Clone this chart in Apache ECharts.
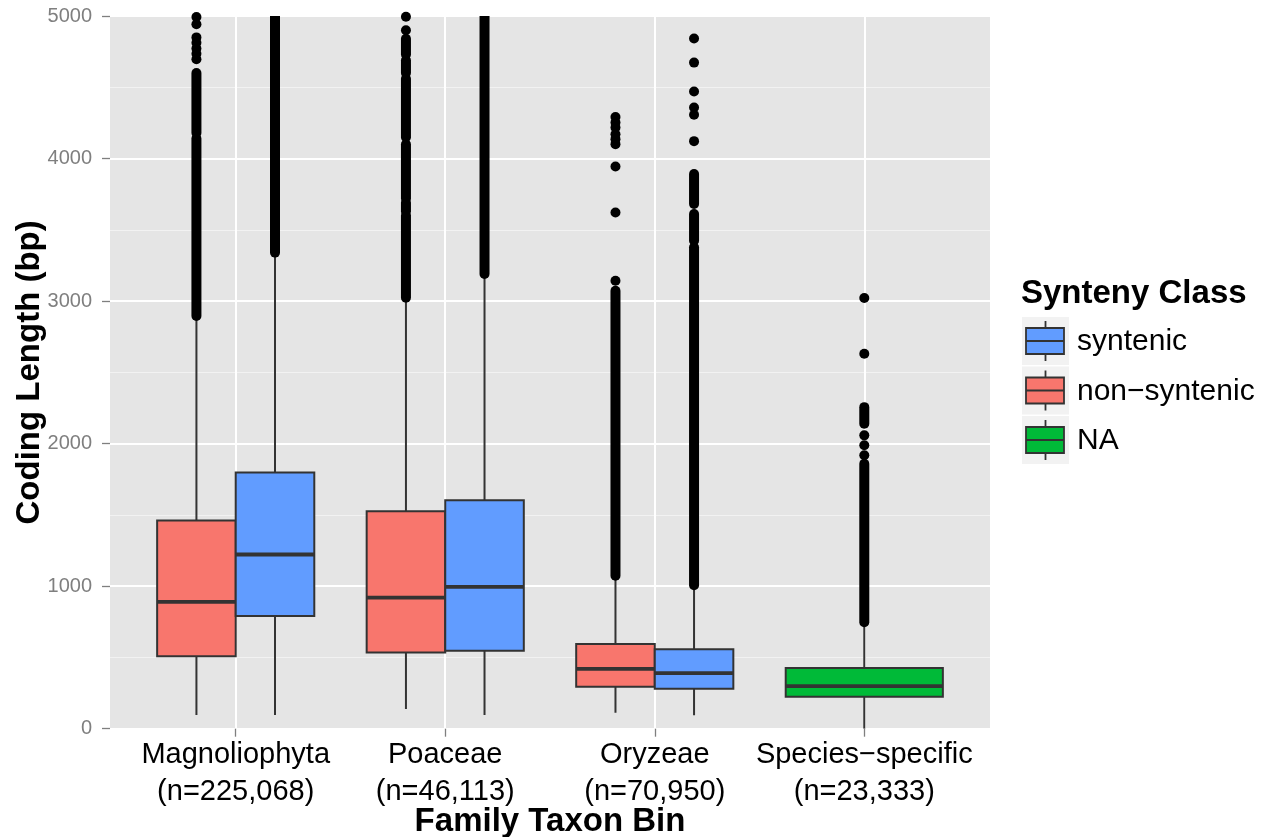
<!DOCTYPE html>
<html><head><meta charset="utf-8">
<script src="https://cdn.jsdelivr.net/npm/echarts@6/dist/echarts.min.js"></script>
<style>html,body{margin:0;padding:0;background:#fff}#c{width:1268px;height:837px}</style>
</head><body><div id="c"></div>
<script>
// ---------- data ----------
const categories = ['Magnoliophyta', 'Poaceae', 'Oryzeae', 'Species\u2212specific'];
const categoryCounts = ['n=225,068', 'n=46,113', 'n=70,950', 'n=23,333'];
const yTicks = [0, 1000, 2000, 3000, 4000, 5000];
const legendNames = ['syntenic', 'non\u2212syntenic', 'NA'];

// [min, Q1, median, Q3, max] per category (null = class absent)
const nonSyntenicBoxes = [[96, 509, 890, 1460, 2885], [138, 535, 920, 1525, 3015], [112, 294, 420, 595, 1060], null];
const syntenicBoxes = [[96, 790, 1222, 1798, 3330], [96, 547, 995, 1602, 3180], [94, 280, 390, 558, 995], null];
const naBoxes = [null, null, null, [0, 224, 299, 425, 740]];

// isolated outliers per category
const nonSyntenicOutliers = [[4993, 4942, 4850, 4812, 4772, 4735, 4697], [4995, 4900], [4291, 4252, 4217, 4171, 4136, 4101, 3944, 3622, 3143], []];
const syntenicOutliers = [[], [], [4842, 4673, 4470, 4358, 4307, 4122], []];
const naOutliers = [[], [], [], [3022, 2630, 2058, 1988, 1918]];

// dense stretches of overlapping outliers per category: [from, to]
const nonSyntenicRuns = [[[2895, 4140], [4180, 4600]], [[3024, 3600], [3630, 3690], [3720, 4100], [4150, 4560], [4600, 4690], [4730, 4840]], [[1073, 3073]], []];
const syntenicRuns = [[[3340, 5100]], [[3190, 5100]], [[1007, 3377], [3424, 3611], [3681, 3891]], []];
const naRuns = [[], [], [], [[747, 1859], [2139, 2256]]];

// ---------- build ----------
const classes = [
  { name: 'non\u2212syntenic', color: '#F8766D', boxes: nonSyntenicBoxes, outliers: nonSyntenicOutliers, runs: nonSyntenicRuns },
  { name: 'syntenic', color: '#619CFF', boxes: syntenicBoxes, outliers: syntenicOutliers, runs: syntenicRuns },
  { name: 'NA', color: '#00BA38', boxes: naBoxes, outliers: naOutliers, runs: naRuns }
];
const DODGE = 0.75;
function placement(ci, i) {
  const present = classes.filter(c => c.boxes[i]);
  const n = present.length;
  const k = present.indexOf(classes[ci]);
  const w = DODGE / n;
  return { x: i - DODGE / 2 + (k + 0.5) * w, hw: w / 2 };
}
const EDGE = '#333333';
const FONT = '"Liberation Sans", Arial, sans-serif';
const series = [];
classes.forEach((c, ci) => {
  const boxData = [], ptData = [], runData = [];
  categories.forEach((_, i) => {
    if (!c.boxes[i]) return;
    const p = placement(ci, i);
    boxData.push([p.x, p.hw].concat(c.boxes[i]));
    c.outliers[i].forEach(v => ptData.push([p.x, v]));
    c.runs[i].forEach(r => runData.push([p.x, r[0], r[1]]));
  });
  series.push({
    type: 'custom', name: c.name, clip: true, z: 2,
    encode: { x: 0, y: [2, 3, 4, 5, 6] },
    data: boxData,
    renderItem: function (params, api) {
      const x = api.value(0), hw = api.value(1);
      const pMin = api.coord([x, api.value(2)]);
      const pQ1 = api.coord([x - hw, api.value(3)]);
      const pMed = api.coord([x, api.value(4)]);
      const pQ3 = api.coord([x + hw, api.value(5)]);
      const pMax = api.coord([x, api.value(6)]);
      const lw = 2;
      return { type: 'group', children: [
        { type: 'line', shape: { x1: pMin[0], y1: pQ3[1], x2: pMin[0], y2: pMax[1] }, style: { stroke: EDGE, lineWidth: lw } },
        { type: 'line', shape: { x1: pMin[0], y1: pQ1[1], x2: pMin[0], y2: pMin[1] }, style: { stroke: EDGE, lineWidth: lw } },
        { type: 'rect', shape: { x: pQ1[0], y: pQ3[1], width: pQ3[0] - pQ1[0], height: pQ1[1] - pQ3[1] }, style: { fill: c.color, stroke: EDGE, lineWidth: lw } },
        { type: 'line', shape: { x1: pQ1[0], y1: pMed[1], x2: pQ3[0], y2: pMed[1] }, style: { stroke: EDGE, lineWidth: 3.8 } }
      ] };
    }
  });
  series.push({
    type: 'custom', name: c.name + ' dense outliers', clip: true, z: 3,
    encode: { x: 0, y: [1, 2] },
    data: runData,
    renderItem: function (params, api) {
      const a = api.coord([api.value(0), api.value(1)]);
      const b = api.coord([api.value(0), api.value(2)]);
      return { type: 'line', shape: { x1: a[0], y1: a[1], x2: b[0], y2: b[1] }, style: { stroke: '#000', lineWidth: 10, lineCap: 'round' } };
    }
  });
  series.push({
    type: 'scatter', name: c.name + ' outliers', z: 3, clip: true,
    symbol: 'circle', symbolSize: 10, itemStyle: { color: '#000', opacity: 1 },
    data: ptData, silent: true
  });
});

// legend (drawn as graphic)
const legendColor = { 'syntenic': '#619CFF', 'non\u2212syntenic': '#F8766D', 'NA': '#00BA38' };
const graphics = [{ type: 'text', left: 1021, top: 277, style: { text: 'Synteny Class', font: 'bold 33px ' + FONT, fill: '#000' } }];
legendNames.forEach((nm, i) => {
  const top = 317 + i * 49.5;
  graphics.push({ type: 'rect', shape: { x: 1022, y: top, width: 47, height: 48 }, style: { fill: '#F2F2F2' } });
  graphics.push({ type: 'line', shape: { x1: 1045.5, y1: top + 4, x2: 1045.5, y2: top + 44 }, style: { stroke: EDGE, lineWidth: 1.8 } });
  graphics.push({ type: 'rect', shape: { x: 1026, y: top + 11, width: 38, height: 26 }, style: { fill: legendColor[nm], stroke: EDGE, lineWidth: 1.8 } });
  graphics.push({ type: 'line', shape: { x1: 1026, y1: top + 24, x2: 1064, y2: top + 24 }, style: { stroke: EDGE, lineWidth: 1.8 } });
  graphics.push({ type: 'text', x: 1077, y: top + 25, style: { text: nm, font: '30px ' + FONT, fill: '#000', textVerticalAlign: 'middle' } });
});

const chart = echarts.init(document.getElementById('c'), null, { renderer: 'canvas' });
chart.setOption({
  animation: false,
  backgroundColor: '#fff',
  grid: { left: 110, right: 278, top: 16, bottom: 108.3, containLabel: false, outerBoundsMode: 'none', show: true, backgroundColor: '#E5E5E5', borderWidth: 0 },
  xAxis: {
    type: 'value', min: -0.6, max: 3.6,
    axisLine: { show: false, onZero: false },
    axisTick: { show: true, length: 8, customValues: [0, 1, 2, 3], lineStyle: { color: '#7F7F7F', width: 1.3 } },
    axisLabel: {
      customValues: [0, 1, 2, 3], margin: 8,
      formatter: v => categories[Math.round(v)] + '\n(' + categoryCounts[Math.round(v)] + ')',
      color: '#000', fontSize: 29, lineHeight: 37, fontFamily: FONT
    },
    splitLine: { show: true, lineStyle: { color: '#FFFFFF', width: 2 } },
    name: 'Family Taxon Bin', nameLocation: 'middle', nameGap: 77, nameMoveOverlap: false,
    nameTextStyle: { fontSize: 33, fontWeight: 'bold', color: '#000', fontFamily: FONT }
  },
  yAxis: {
    type: 'value', min: yTicks[0], max: yTicks[yTicks.length - 1], interval: 1000,
    axisLine: { show: false, onZero: false },
    axisTick: { show: true, length: 8, lineStyle: { color: '#7F7F7F', width: 1.3 } },
    axisLabel: { margin: 18, color: '#7F7F7F', fontSize: 20, fontFamily: FONT, formatter: v => String(v) },
    splitLine: { show: true, lineStyle: { color: '#FFFFFF', width: 2 } },
    minorTick: { show: false, splitNumber: 2 },
    minorSplitLine: { show: true, lineStyle: { color: '#F2F2F2', width: 1 } },
    name: 'Coding Length (bp)', nameLocation: 'middle', nameGap: 64, nameRotate: 90, nameMoveOverlap: false,
    nameTextStyle: { fontSize: 33, fontWeight: 'bold', color: '#000', fontFamily: FONT }
  },
  graphic: graphics,
  series: series
});
</script></body></html>
